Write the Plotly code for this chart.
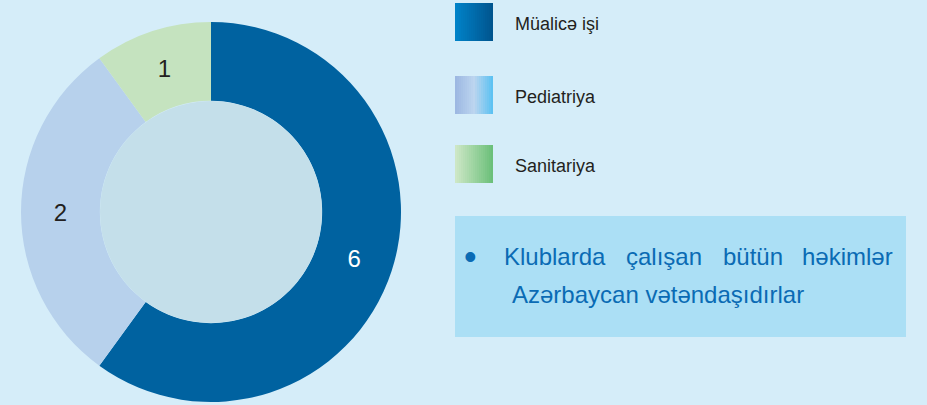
import plotly.graph_objects as go

labels = ["Müalicə işi", "Pediatriya", "Sanitariya"]
values = [6, 2, 1]              # numbers printed on the ring
ring_share = [60, 30, 10]       # share of the ring each slice occupies, as drawn (%)
slice_colors = ["#0062a0", "#b7d1ec", "#c5e3bf"]
text_colors = ["#ffffff", "#231f20", "#231f20"]
legend_grad = [("#0082c8", "#00558f"), ("#9db8e2", "#5ec2f2"), ("#cde7c6", "#6cc07a")]
note_words = ["Klublarda", "çalışan", "bütün", "həkimlər"]
note_line2 = "Azərbaycan vətəndaşıdırlar"

W, H = 927, 405
FONT = "Liberation Sans, Arial, sans-serif"
BG = "#d5edf9"

def px(x):
    return x / W

def py(y):
    return 1 - y / H

fig = go.Figure()
fig.add_trace(go.Pie(
    labels=labels, values=ring_share, text=[str(v) for v in values],
    sort=False, direction="clockwise", rotation=0,
    hole=0.585,
    marker=dict(colors=slice_colors, line=dict(width=0)),
    textinfo="text", textposition="inside", insidetextorientation="horizontal",
    textfont=dict(family=FONT, size=24, color=text_colors),
    domain=dict(x=[px(21), px(401)], y=[py(402), py(22)]),
    showlegend=False, hoverinfo="label+text",
))

shapes = []
# inner disc of donut
shapes.append(dict(type="circle", xref="paper", yref="paper",
                   x0=px(100), x1=px(322), y0=py(323), y1=py(101),
                   fillcolor="#c4dfea", line=dict(width=0), layer="above"))

def hex2rgb(h):
    h = h.lstrip("#")
    return tuple(int(h[i:i + 2], 16) for i in (0, 2, 4))

def lerp(c1, c2, t):
    a, b = hex2rgb(c1), hex2rgb(c2)
    return "rgb(%d,%d,%d)" % tuple(round(a[i] + (b[i] - a[i]) * t) for i in range(3))

annotations = []
row_y = [3, 76, 145]
for i, lab in enumerate(labels):
    y0 = row_y[i]
    c1, c2 = legend_grad[i]
    n = 19
    for k in range(n):
        x0 = 455 + 38 * k / n
        x1 = 455 + 38 * (k + 1) / n + 0.6
        t = k / (n - 1)
        if i == 1:
            col = lerp("#9db8e2", "#bcd5ef", t * 2) if t < 0.5 else lerp("#bcd5ef", "#5ec2f2", (t - 0.5) * 2)
        else:
            col = lerp(c1, c2, t)
        shapes.append(dict(type="rect", xref="paper", yref="paper",
                           x0=px(x0), x1=px(min(x1, 493)), y0=py(y0 + 38), y1=py(y0),
                           fillcolor=col, line=dict(width=0)))
    annotations.append(dict(text=lab, xref="paper", yref="paper", x=px(513), y=py(y0 + 21),
                            xanchor="left", yanchor="middle", showarrow=False,
                            font=dict(family=FONT, size=18, color="#231f20")))

# note box
shapes.append(dict(type="rect", xref="paper", yref="paper",
                   x0=px(455), x1=px(906), y0=py(337), y1=py(216),
                   fillcolor="#abdff5", line=dict(width=0)))
note_font = dict(family=FONT, size=24, color="#0a6bb4")
annotations.append(dict(text="•", xref="paper", yref="paper", x=px(470), y=py(256),
                        xanchor="center", yanchor="middle", showarrow=False,
                        font=dict(family=FONT, size=36, color="#0a6bb4")))
word_x = [502, 624, 721, 895]
for j, w in enumerate(note_words):
    annotations.append(dict(text=w, xref="paper", yref="paper", x=px(word_x[j]), y=py(256),
                            xanchor="right" if j == len(note_words) - 1 else "left",
                            yanchor="middle", showarrow=False, font=note_font))
annotations.append(dict(text=note_line2, xref="paper", yref="paper", x=px(510), y=py(294),
                        xanchor="left", yanchor="middle", showarrow=False, font=note_font))

fig.update_layout(
    width=W, height=H, margin=dict(l=0, r=0, t=0, b=0),
    paper_bgcolor=BG, plot_bgcolor=BG,
    shapes=shapes, annotations=annotations, showlegend=False,
)
fig.write_html("out.html", config={"displayModeBar": False},
               post_script="document.body.style.margin='0';document.body.style.background='%s';" % BG)
